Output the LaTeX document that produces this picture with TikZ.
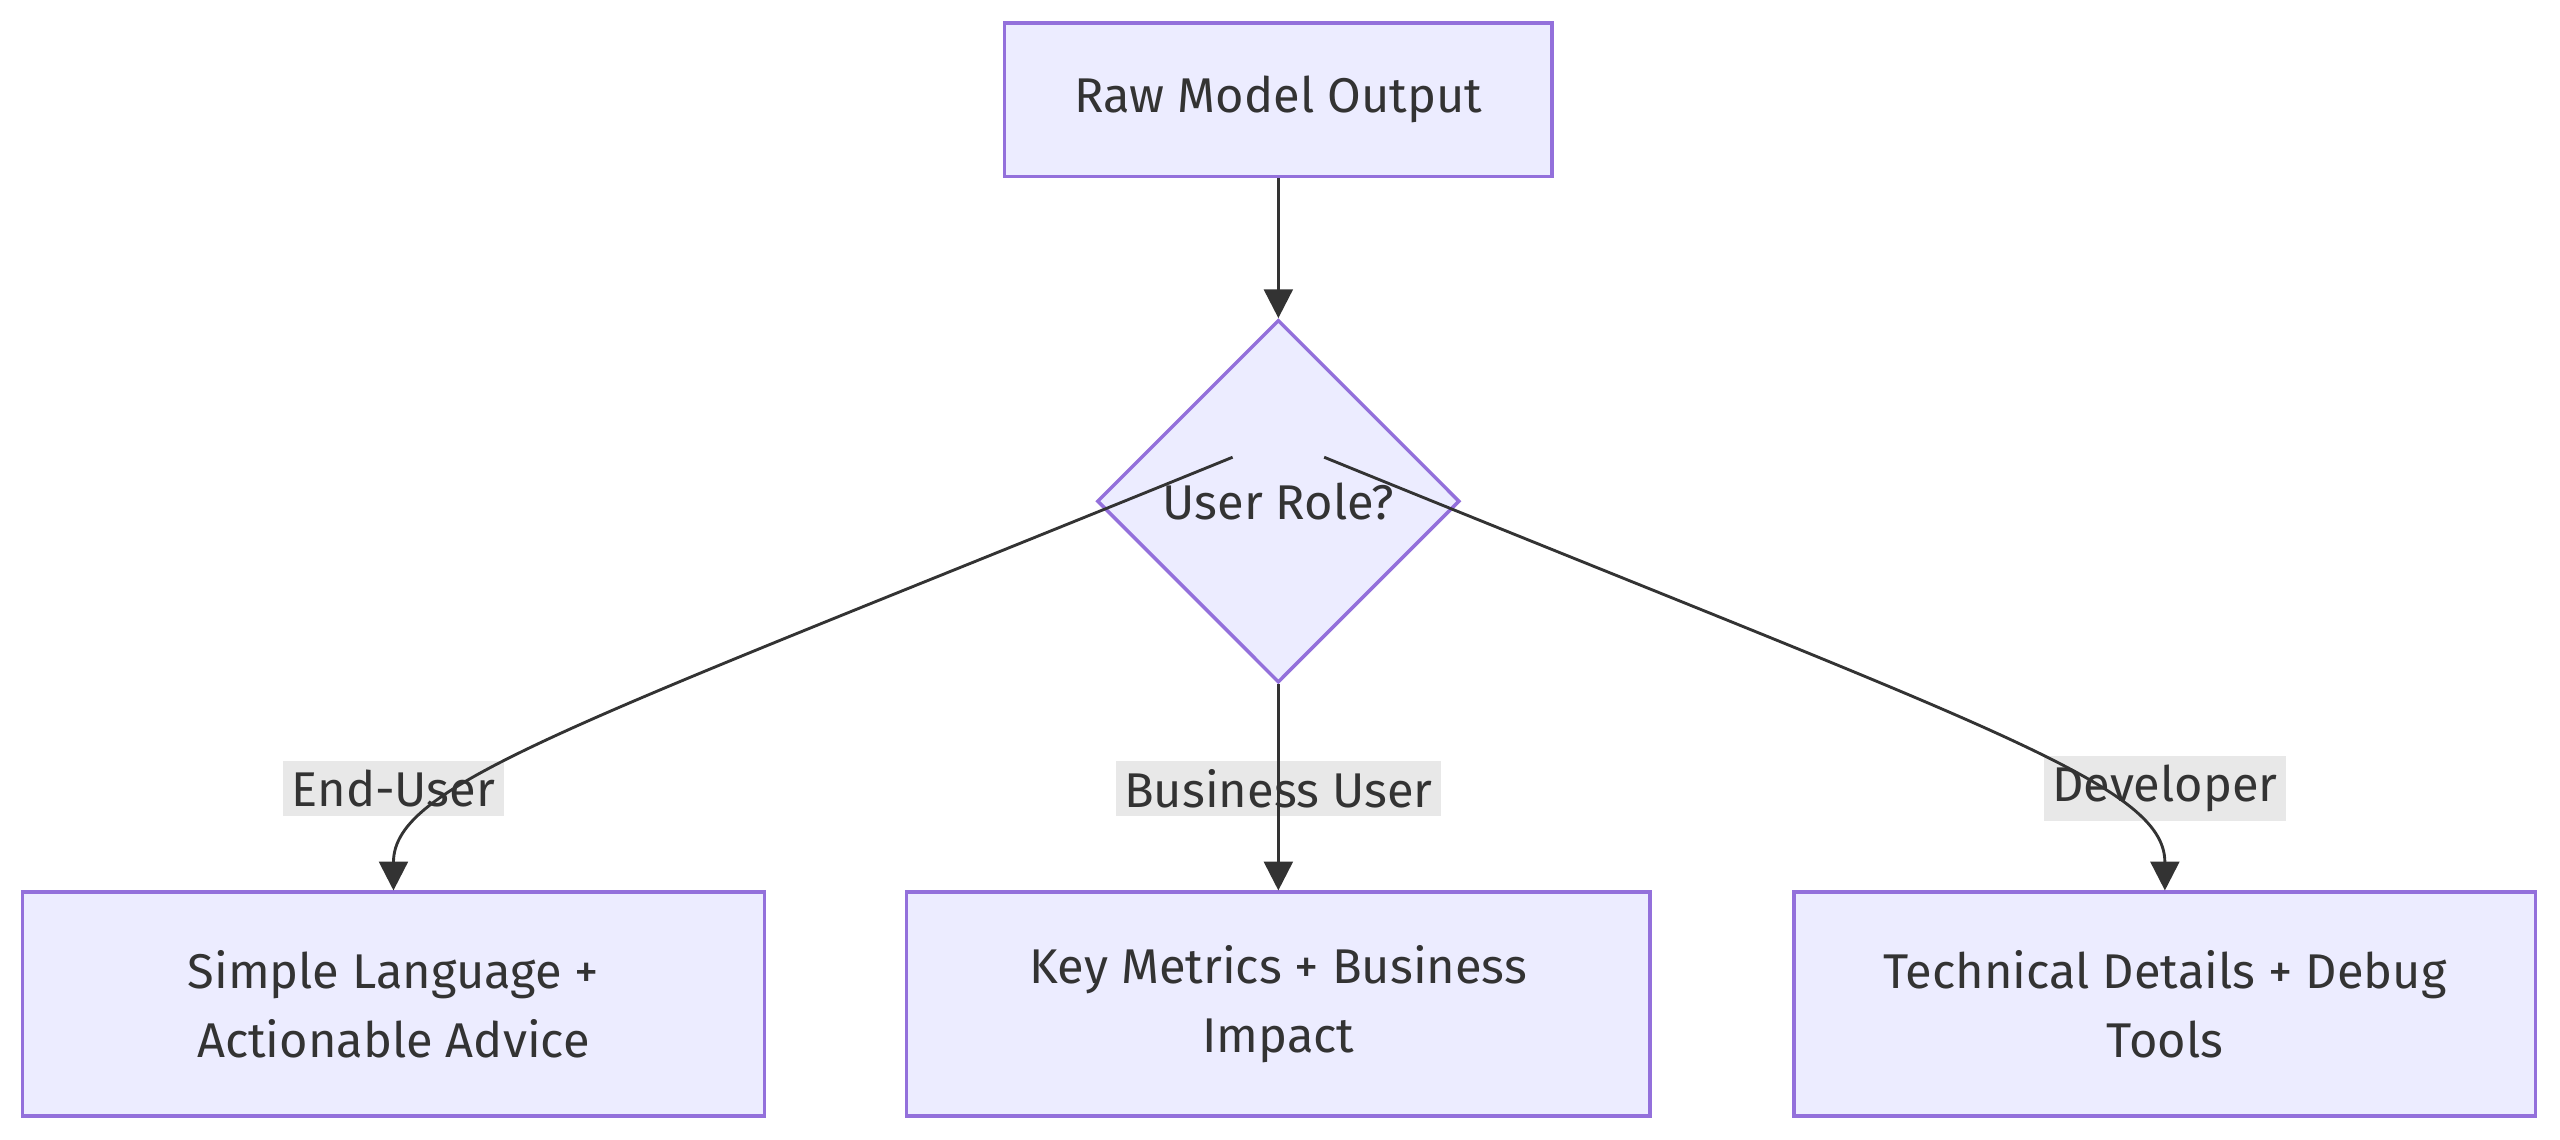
\documentclass[tikz,border=0pt]{standalone}
\usepackage{fontspec}
\setmainfont{Fira Sans}
\usetikzlibrary{shapes.geometric,arrows.meta,positioning}
\definecolor{boxfill}{HTML}{ECECFF}
\definecolor{boxline}{HTML}{9370DB}
\definecolor{edgeline}{HTML}{333333}
\definecolor{lblfill}{HTML}{E8E8E8}
\tikzset{
  box/.style={rectangle, draw=boxline, fill=boxfill, line width=0.6pt, text=edgeline, align=center, font=\fontsize{8.5}{12}\selectfont},
  choice/.style={diamond, draw=boxline, fill=boxfill, line width=0.6pt, text=edgeline, font=\fontsize{8.5}{12}\selectfont, minimum width=6.25cm*0.355, minimum height=2.22cm, inner sep=0pt, aspect=1},
  lbl/.style={fill=lblfill, text=edgeline, inner sep=1.5pt, font=\fontsize{8.5}{12}\selectfont},
  flow/.style={draw=edgeline, line width=0.5pt, -{Triangle[length=5pt,width=5pt]}}
}
\begin{document}
\begin{tikzpicture}[x=0.01cm, y=-0.01cm]
    \useasboundingbox (0,0) rectangle (1568,698);
    % Source and decision
    \node[box, minimum width=3.35cm, minimum height=0.94cm] (raw) at (783,61) {Raw Model Output};
    \node[choice] (role) at (783,307) {User Role?};

    % Outputs
    \node[box, minimum width=4.54cm, minimum height=1.37cm] (simple) at (241,615) {Simple Language +\\Actionable Advice};
    \node[box, minimum width=4.55cm, minimum height=1.37cm] (metrics) at (783,615) {Key Metrics + Business\\Impact};
    \node[box, minimum width=4.54cm, minimum height=1.37cm] (tech) at (1326,615) {Technical Details + Debug\\Tools};

    % Edge labels
    \node[lbl] (enduser) at (241,483) {End-User};
    \node[lbl] (business) at (783,483) {Business User};
    \node[lbl] (dev) at (1326,483) {Developer};

    % Edges
    \draw[flow] (raw) -- (role);
    \draw[flow] (role.south west) ++(28,-83) coordinate (lo) (lo) .. controls (350,445) and (241,480) .. (simple.north);
    \draw[flow] (role) -- (metrics);
    \draw[flow] (role.south east) ++(-28,-83) coordinate (ro) (ro) .. controls (1216,445) and (1326,480) .. (tech.north);
\end{tikzpicture}
\end{document}
